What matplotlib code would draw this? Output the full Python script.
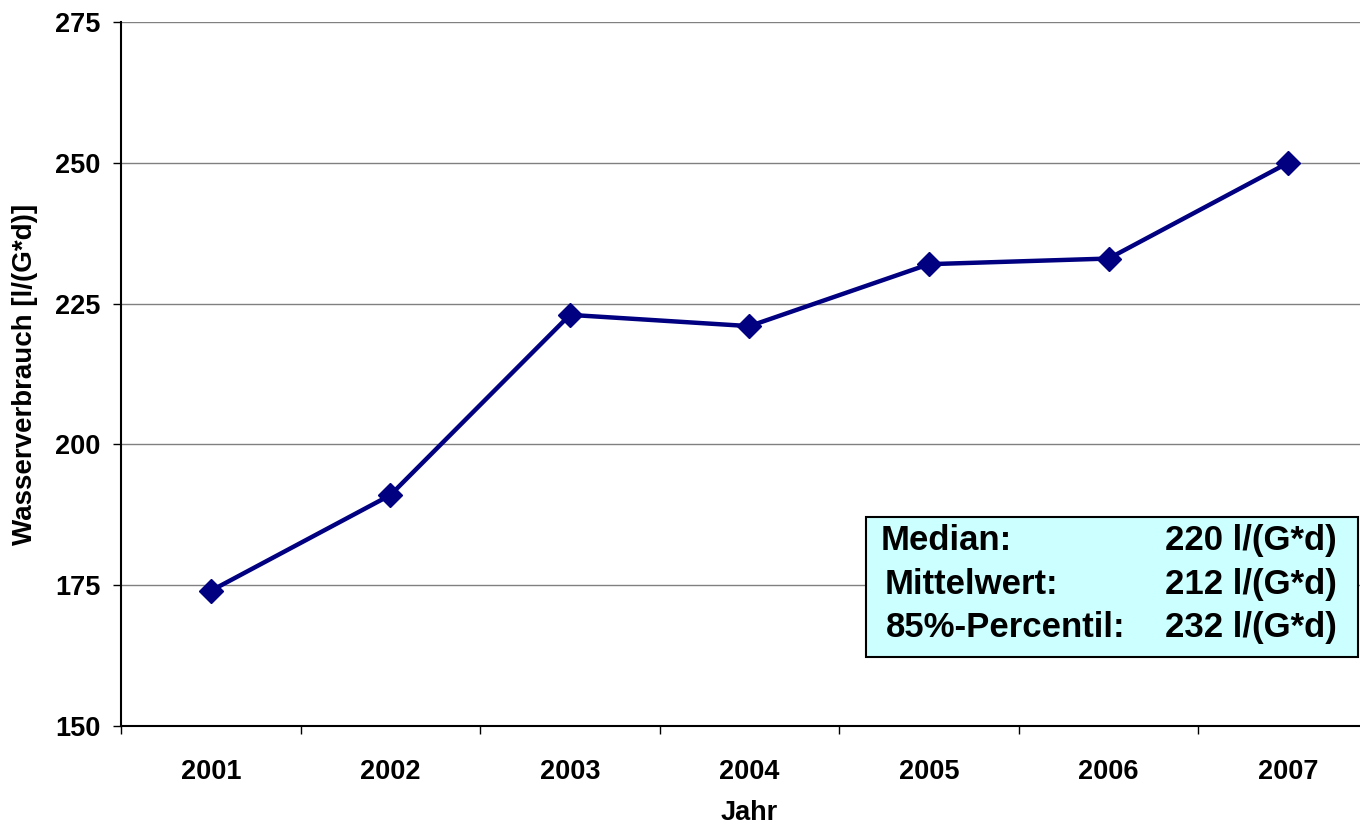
import matplotlib
matplotlib.use('Agg')
import matplotlib.pyplot as plt
from matplotlib.patches import Rectangle
import matplotlib.transforms as mtransforms

plt.rcParams['font.family'] = ['Liberation Sans', 'DejaVu Sans']
plt.rcParams['font.weight'] = 'bold'

# Daten
jahre = ['2001', '2002', '2003', '2004', '2005', '2006', '2007']
verbrauch = [174, 191, 223, 221, 232, 233, 250]
y_ticks = [150, 175, 200, 225, 250, 275]
stat_labels = ['Median:', 'Mittelwert:', '85%-Percentil:']
stat_werte = ['220 l/(G*d)', '212 l/(G*d)', '232 l/(G*d)']

fig = plt.figure(figsize=(13.6, 8.26), dpi=100)
ax = fig.add_axes([121 / 1360, 100 / 826, 1239 / 1360, 704 / 826])

x = list(range(1, len(jahre) + 1))
ax.plot(x, verbrauch, color='#000080', linewidth=3.2, marker='D',
        markersize=12, zorder=3)

ax.set_yticks(y_ticks)
ax.set_yticklabels([str(v) for v in y_ticks], fontsize=19.5, fontweight='bold')
ax.set_xticks(x)
ax.set_xticklabels(jahre, fontsize=19.5, fontweight='bold')
ax.set_xticks([i + 0.5 for i in range(0, len(jahre) + 1)], minor=True)
ax.set_xlim(0.5, 7.4)
ax.set_ylim(150, 275)
ax.tick_params(axis='x', which='major', length=0, pad=24)
ax.tick_params(axis='x', which='minor', length=6, width=1, color='black')
ax.tick_params(axis='y', length=6, width=1, pad=9, color='black')

ax.grid(axis='y', color='#808080', linewidth=1)
ax.set_axisbelow(True)
for s in ['top', 'right']:
    ax.spines[s].set_visible(False)
ax.spines['left'].set_linewidth(1.5)
ax.spines['bottom'].set_linewidth(1.5)

trans = mtransforms.blended_transform_factory(ax.transData, ax.transAxes)
ax.text(4, -0.124, 'Jahr', transform=trans, ha='center', va='center',
        fontsize=19.5, fontweight='bold')
ax.text(-0.0775, 0.5, 'Wasserverbrauch [l/(G*d)]', transform=ax.transAxes,
        rotation=90, ha='center', va='center', fontsize=20, fontweight='bold')

# Statistik-Box
box = Rectangle((0.601, 0.098), 0.397, 0.199, transform=ax.transAxes,
                facecolor='#CCFFFF', edgecolor='black', linewidth=1.5,
                zorder=4, clip_on=False)
ax.add_patch(box)
zeilen_y = [0.263, 0.201, 0.140]
links_x = [0.613, 0.616, 0.617]
for lab, wert, yy, lx in zip(stat_labels, stat_werte, zeilen_y, links_x):
    ax.text(lx, yy, lab, transform=ax.transAxes, ha='left', va='center',
            fontsize=25, fontweight='bold', zorder=5)
    ax.text(0.981, yy, wert, transform=ax.transAxes, ha='right', va='center',
            fontsize=25, fontweight='bold', zorder=5)

fig.savefig('out.png', dpi=100)
